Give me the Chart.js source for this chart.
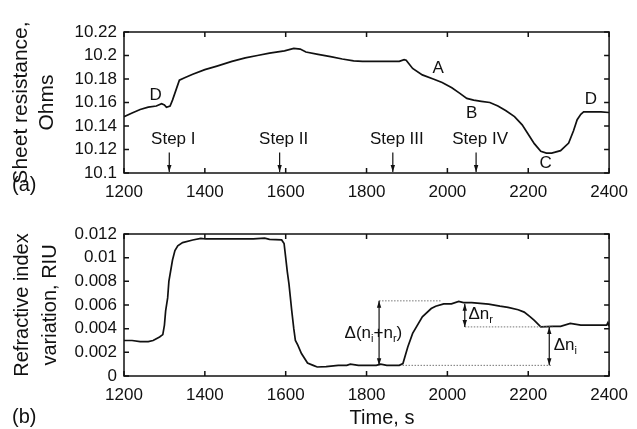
<!DOCTYPE html>
<html>
<head>
<meta charset="utf-8">
<script src="https://cdn.jsdelivr.net/npm/chart.js@4.4.1/dist/chart.umd.min.js"></script>
<style>
  html, body { margin: 0; padding: 0; background: #fff; }
  #wrap { position: relative; width: 637px; height: 429px; }
  canvas { position: absolute; left: 0; }
  #top { top: 0; }
  #bot { top: 200px; }
</style>
</head>
<body>
<div id="wrap">
  <canvas id="top" width="637" height="200"></canvas>
  <canvas id="bot" width="637" height="229"></canvas>
</div>
<script>
// ── DATA ─────────────────────────────────────────────────────────────
const xTicks = [1200, 1400, 1600, 1800, 2000, 2200, 2400]

// (a) sheet resistance, Ohms
const timeA = [1200, 1220, 1240, 1260, 1280, 1293, 1300, 1305, 1314, 1320, 1330, 1337, 1350, 1370,
  1400, 1430, 1467, 1500, 1530, 1560, 1597, 1620, 1636, 1650, 1680, 1711, 1740, 1768, 1790, 1824,
  1850, 1881, 1893, 1898, 1914, 1938, 1965, 1987, 2011, 2030, 2048, 2065, 2084, 2105, 2125, 2145,
  2166, 2185, 2198, 2215, 2231, 2245, 2258, 2280, 2300, 2312, 2321, 2330, 2337, 2360, 2380, 2400]
const resistance = [10.148, 10.151, 10.154, 10.156, 10.157, 10.159, 10.158, 10.156, 10.157, 10.162,
  10.172, 10.179, 10.181, 10.184, 10.188, 10.191, 10.195, 10.198, 10.200, 10.202, 10.204, 10.206,
  10.2055, 10.203, 10.201, 10.199, 10.197, 10.1955, 10.195, 10.195, 10.195, 10.195, 10.1965, 10.196,
  10.189, 10.1835, 10.180, 10.177, 10.1725, 10.168, 10.1635, 10.162, 10.161, 10.160, 10.157, 10.153,
  10.148, 10.141, 10.134, 10.125, 10.1184, 10.117, 10.117, 10.119, 10.1255, 10.136, 10.1454, 10.150,
  10.152, 10.152, 10.152, 10.1515]
const yTicksA = [10.1, 10.12, 10.14, 10.16, 10.18, 10.2, 10.22]

// (b) refractive index variation, RIU
const timeB = [1200, 1220, 1240, 1260, 1272, 1288, 1296, 1300, 1303, 1308, 1311, 1316, 1320, 1326,
  1333, 1345, 1370, 1390, 1402, 1430, 1467, 1500, 1520, 1548, 1560, 1590, 1596, 1600, 1604, 1608,
  1612, 1615, 1620, 1624, 1630, 1639, 1654, 1668, 1678, 1700, 1730, 1751, 1760, 1780, 1824, 1835,
  1850, 1881, 1890, 1902, 1914, 1938, 1960, 1971, 1991, 2010, 2028, 2040, 2060, 2102, 2130, 2150,
  2175, 2190, 2205, 2215, 2231, 2260, 2280, 2304, 2330, 2360, 2394, 2397, 2400]
const riu = [0.0030, 0.0030, 0.0029, 0.0029, 0.0030, 0.0033, 0.0035, 0.0043, 0.0055, 0.0066, 0.0080,
  0.0090, 0.0098, 0.0106, 0.0110, 0.01127, 0.01149, 0.01163, 0.01158, 0.0116, 0.01158, 0.0116,
  0.01158, 0.01165, 0.01155, 0.0115, 0.0112, 0.0100, 0.0088, 0.0078, 0.0065, 0.0055, 0.0040, 0.0030,
  0.0026, 0.0019, 0.0011, 0.0009, 0.00076, 0.0008, 0.0009, 0.0009, 0.0010, 0.0009, 0.0009, 0.0010,
  0.0009, 0.0009, 0.00105, 0.00246, 0.0036, 0.0050, 0.0057, 0.0059, 0.0061, 0.0061, 0.0063, 0.0062,
  0.0062, 0.00607, 0.0059, 0.0058, 0.0056, 0.0054, 0.0050, 0.0047, 0.00415, 0.0042, 0.0042, 0.00444,
  0.0043, 0.0043, 0.0043, 0.0045, 0.0042]
const yTicksB = [0, 0.002, 0.004, 0.006, 0.008, 0.01, 0.012]

// annotations (a)
const pointNames = ['D', 'A', 'B', 'C', 'D']
const pointTimes = [1278, 1977, 2060, 2243, 2355]
const pointVals = [10.1665, 10.189, 10.151, 10.1085, 10.163]
const stepNames = ['Step I', 'Step II', 'Step III', 'Step IV']
const stepTimes = [1312, 1585, 1865, 2071]

// annotations (b)
const levelTop = 0.00635, levelMid = 0.00415, levelLow = 0.0009

// ── HELPERS ──────────────────────────────────────────────────────────
const FONT = '"Liberation Sans", Arial, sans-serif'
const INK = '#111'

function fmt(v, d) { return String(Number(v.toFixed(d))) }

function head(ctx, x, y, dir, w, l) {
  ctx.beginPath()
  ctx.moveTo(x, y)
  ctx.lineTo(x - w, y - dir * l)
  ctx.lineTo(x + w, y - dir * l)
  ctx.closePath()
  ctx.fill()
}

function vArrow(ctx, x, y1, y2, both) {
  ctx.beginPath(); ctx.moveTo(x, y1); ctx.lineTo(x, y2); ctx.stroke()
  const dir = y2 > y1 ? 1 : -1
  head(ctx, x, y2, dir, 2.2, 7)
  if (both) head(ctx, x, y1, -dir, 2.2, 7)
}

function dotted(ctx, x1, x2, y) {
  ctx.save()
  ctx.strokeStyle = '#777'; ctx.lineWidth = 1; ctx.setLineDash([1.5, 1.5])
  ctx.beginPath(); ctx.moveTo(x1, y); ctx.lineTo(x2, y); ctx.stroke()
  ctx.restore()
}

function subText(ctx, parts, x, y, align) {
  const big = '17px ' + FONT, small = '11px ' + FONT
  let w = 0
  parts.forEach(([s, sub]) => { ctx.font = sub ? small : big; w += ctx.measureText(s).width })
  let cx = align === 'center' ? x - w / 2 : x
  ctx.textAlign = 'left'; ctx.textBaseline = 'middle'
  parts.forEach(([s, sub]) => {
    ctx.font = sub ? small : big
    ctx.fillText(s, cx, sub ? y + 6 : y)
    cx += ctx.measureText(s).width
  })
}

// box + inward ticks on all four sides
const frame = {
  id: 'frame',
  afterDatasetsDraw(chart) {
    const { ctx, chartArea: a, scales: { x, y } } = chart
    ctx.save()
    ctx.strokeStyle = INK; ctx.lineWidth = 1.5
    ctx.strokeRect(a.left, a.top, a.right - a.left, a.bottom - a.top)
    ctx.beginPath()
    x.ticks.forEach(t => {
      const px = x.getPixelForValue(t.value)
      ctx.moveTo(px, a.bottom); ctx.lineTo(px, a.bottom - 5)
      ctx.moveTo(px, a.top); ctx.lineTo(px, a.top + 5)
    })
    y.ticks.forEach(t => {
      const py = y.getPixelForValue(t.value)
      ctx.moveTo(a.left, py); ctx.lineTo(a.left + 5, py)
      ctx.moveTo(a.right, py); ctx.lineTo(a.right - 5, py)
    })
    ctx.stroke()
    ctx.restore()
  }
}

const notesA = {
  id: 'notesA',
  afterDraw(chart) {
    const { ctx, scales: { x, y } } = chart
    ctx.save()
    ctx.fillStyle = INK; ctx.strokeStyle = INK; ctx.lineWidth = 1.2
    ctx.font = '17px ' + FONT; ctx.textAlign = 'center'; ctx.textBaseline = 'middle'
    pointNames.forEach((n, i) => ctx.fillText(n, x.getPixelForValue(pointTimes[i]), y.getPixelForValue(pointVals[i])))
    stepNames.forEach((n, i) => {
      const px = x.getPixelForValue(stepTimes[i])
      ctx.fillText(n, px + 4, y.getPixelForValue(10.1285))
      vArrow(ctx, px, y.getPixelForValue(10.1175), y.getPixelForValue(10.1) - 1, false)
    })
    ctx.font = '20px ' + FONT; ctx.textAlign = 'left'
    ctx.fillText('(a)', 12, 185)
    ctx.restore()
  }
}

const notesB = {
  id: 'notesB',
  afterDraw(chart) {
    const { ctx, scales: { x, y } } = chart
    ctx.save()
    dotted(ctx, x.getPixelForValue(1831), x.getPixelForValue(1983), y.getPixelForValue(levelTop))
    dotted(ctx, x.getPixelForValue(2043), x.getPixelForValue(2260), y.getPixelForValue(levelMid))
    dotted(ctx, x.getPixelForValue(1889), x.getPixelForValue(2260), y.getPixelForValue(levelLow))
    ctx.fillStyle = INK; ctx.strokeStyle = INK; ctx.lineWidth = 1.2
    vArrow(ctx, x.getPixelForValue(1831), y.getPixelForValue(levelTop), y.getPixelForValue(levelLow), true)
    vArrow(ctx, x.getPixelForValue(2043), y.getPixelForValue(0.0061), y.getPixelForValue(levelMid), true)
    vArrow(ctx, x.getPixelForValue(2252), y.getPixelForValue(levelMid), y.getPixelForValue(levelLow), true)
    subText(ctx, [['Δ(n', 0], ['i', 1], ['+n', 0], ['r', 1], [')', 0]], x.getPixelForValue(1817), y.getPixelForValue(0.0036), 'center')
    subText(ctx, [['Δn', 0], ['r', 1]], x.getPixelForValue(2052), y.getPixelForValue(0.0052), 'left')
    subText(ctx, [['Δn', 0], ['i', 1]], x.getPixelForValue(2263), y.getPixelForValue(0.0026), 'left')
    ctx.font = '20px ' + FONT; ctx.textBaseline = 'middle'
    ctx.textAlign = 'left'
    ctx.fillText('(b)', 12, 217)
    ctx.textAlign = 'center'
    ctx.fillText('Time, s', 382, 218)
    ctx.restore()
  }
}

// ── CHART BUILDER ────────────────────────────────────────────────────
function makePanel(id, xs, ys, yTicks, digits, title, titleSize, lineH, padTop, xAxisH, notes) {
  const pts = xs.map((t, i) => ({ x: t, y: ys[i] }))
  return new Chart(document.getElementById(id), {
    type: 'line',
    data: { datasets: [{ data: pts, borderColor: INK, borderWidth: 1.7, pointRadius: 0, tension: 0 }] },
    options: {
      responsive: false,
      animation: false,
      devicePixelRatio: 1,
      layout: { padding: { top: padTop, right: 21, left: 0, bottom: 0 } },
      plugins: { legend: { display: false }, tooltip: { enabled: false } },
      scales: {
        x: {
          type: 'linear', min: 1200, max: 2400,
          afterBuildTicks: s => { s.ticks = xTicks.map(v => ({ value: v })) },
          ticks: { color: INK, padding: 9, font: { family: FONT, size: 17 }, maxRotation: 0, callback: v => String(v) },
          grid: { display: false, drawTicks: false }, border: { display: false },
          afterFit: s => { s.height = xAxisH }
        },
        y: {
          min: yTicks[0], max: yTicks[yTicks.length - 1],
          afterBuildTicks: s => { s.ticks = yTicks.map(v => ({ value: v })) },
          ticks: { color: INK, padding: 7, font: { family: FONT, size: 17 }, callback: v => fmt(v, digits) },
          grid: { display: false, drawTicks: false }, border: { display: false },
          title: { display: true, text: title, color: INK, padding: { top: 8, bottom: 0 }, font: { family: FONT, size: titleSize, lineHeight: lineH } },
          afterFit: s => { s.width = 124 }
        }
      }
    },
    plugins: [frame, notes]
  })
}

makePanel('top', timeA, resistance, yTicksA, 2, ['Sheet resistance,', 'Ohms'], 21, 1.25, 32, 27, notesA)
makePanel('bot', timeB, riu, yTicksB, 3, ['Refractive index', 'variation, RIU'], 20, 1.4, 34, 53, notesB)
</script>
</body>
</html>
